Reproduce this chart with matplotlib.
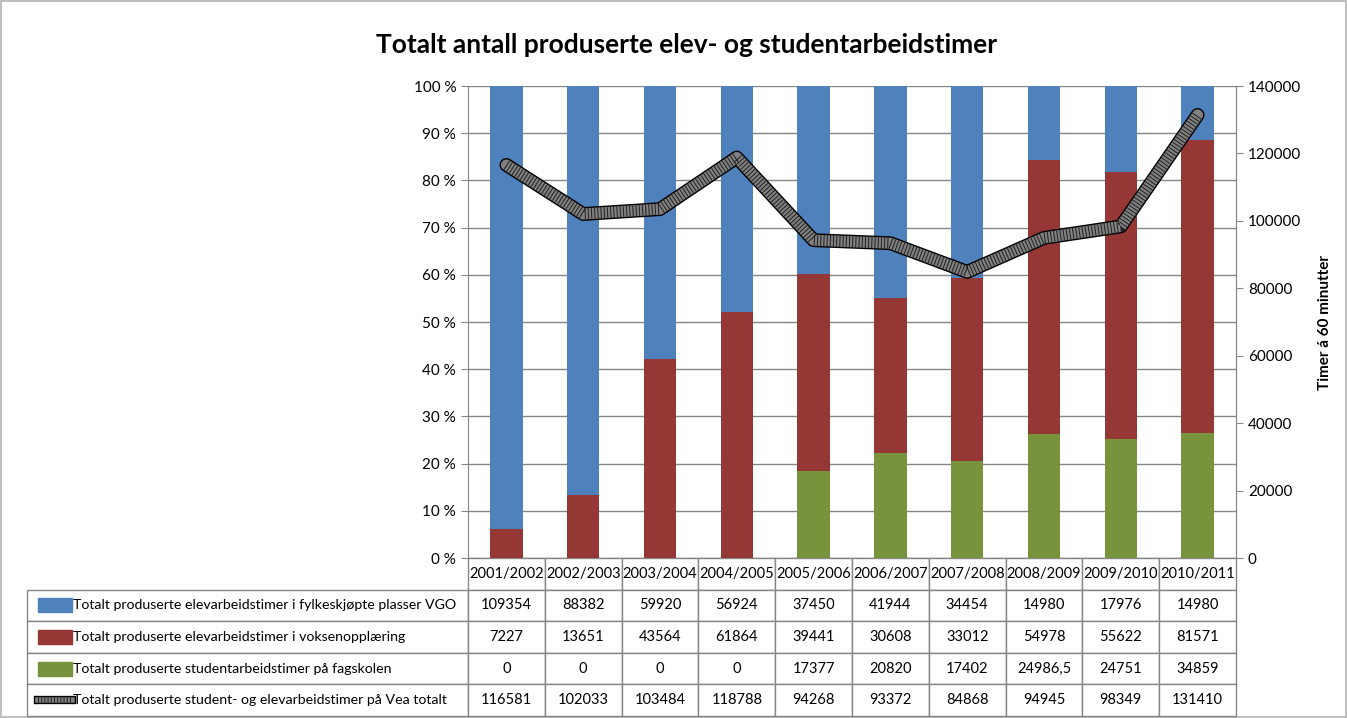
import numpy as np
import matplotlib.pyplot as plt
from matplotlib.patches import Rectangle
from matplotlib.lines import Line2D
from matplotlib.ticker import FuncFormatter

plt.rcParams['font.family'] = ['Lato', 'DejaVu Sans']
plt.rcParams['lines.scale_dashes'] = False

years = ['2001/2002', '2002/2003', '2003/2004', '2004/2005', '2005/2006',
         '2006/2007', '2007/2008', '2008/2009', '2009/2010', '2010/2011']
vgo = [109354, 88382, 59920, 56924, 37450, 41944, 34454, 14980, 17976, 14980]
voksen = [7227, 13651, 43564, 61864, 39441, 30608, 33012, 54978, 55622, 81571]
fagskole = [0, 0, 0, 0, 17377, 20820, 17402, 24986.5, 24751, 34859]
totalt = [116581, 102033, 103484, 118788, 94268, 93372, 84868, 94945, 98349, 131410]

labels = ['Totalt produserte elevarbeidstimer i fylkeskjøpte plasser VGO',
          'Totalt produserte elevarbeidstimer i voksenopplæring',
          'Totalt produserte studentarbeidstimer på fagskolen',
          'Totalt produserte student- og elevarbeidstimer på Vea totalt']

c_blue = '#4f81bd'
c_red = '#953735'
c_green = '#77933c'
grid_c = '#868686'
fs = 10.5


def fmt(v):
    if float(v).is_integer():
        return str(int(v))
    return str(v).replace('.', ',')


sum3 = np.array(vgo) + np.array(voksen) + np.array(fagskole)
p_green = np.array(fagskole) / sum3
p_red = np.array(voksen) / sum3
p_blue = np.array(vgo) / sum3

x = np.arange(len(years))

fig = plt.figure(figsize=(13.47, 7.18), dpi=100)
fig.patch.set_edgecolor('#bfbfbf')
fig.patch.set_linewidth(1.5)
ax = fig.add_axes([468 / 1347, 1 - 558 / 718, 768 / 1347, 472 / 718])

w = 0.42
ax.bar(x, p_green, w, color=c_green, zorder=2)
ax.bar(x, p_red, w, bottom=p_green, color=c_red, zorder=2)
ax.bar(x, p_blue, w, bottom=p_green + p_red, color=c_blue, zorder=2)

ax.set_xlim(-0.5, len(years) - 0.5)
ax.set_ylim(0, 1)
ax.set_yticks(np.arange(0, 1.01, 0.1))
ax.yaxis.set_major_formatter(FuncFormatter(lambda v, p: f'{v * 100:.0f} %'))
ax.yaxis.grid(True, color=grid_c, linewidth=1)
ax.set_axisbelow(True)
ax.set_xticks([])
for s in ['top', 'bottom']:
    ax.spines[s].set_visible(False)
ax.spines['left'].set_color(grid_c)
ax.spines['right'].set_color(grid_c)
ax.tick_params(axis='y', direction='out', length=5, color=grid_c, labelsize=fs + 0.5)


def hatched_line(axis, xs, ys, lw, **kw):
    axis.plot(xs, ys, color='black', linewidth=lw + 2, solid_capstyle='round', zorder=3, **kw)
    axis.plot(xs, ys, color='#808080', linewidth=lw, solid_capstyle='round', zorder=4, **kw)
    axis.plot(xs, ys, color='black', linewidth=lw, dashes=(0.7, 1.6), alpha=0.75, zorder=5, **kw)


ax2 = ax.twinx()
hatched_line(ax2, x, totalt, 8)
ax2.set_ylim(0, 140000)
ax2.set_yticks(np.arange(0, 140001, 20000))
for s in ['top', 'bottom', 'left']:
    ax2.spines[s].set_visible(False)
ax2.spines['right'].set_color(grid_c)
ax2.tick_params(axis='y', direction='out', length=5, color=grid_c, labelsize=fs + 0.5)
ax2.set_ylabel('Timer á 60 minutter', fontsize=fs + 0.5, fontweight='bold')
ax2.yaxis.set_label_coords(1.107, 0.5)

# data table under the chart
header = [''] + years
rows = [[labels[0]] + [fmt(v) for v in vgo],
        [labels[1]] + [fmt(v) for v in voksen],
        [labels[2]] + [fmt(v) for v in fagskole],
        [labels[3]] + [fmt(v) for v in totalt]]
lab_w = 441 / 768
col_w = 0.1
tx0 = -lab_w
ty0 = -158 / 472
th = 158 / 472
tbl = ax.table(cellText=[header] + rows, cellLoc='center',
               colWidths=[lab_w] + [col_w] * len(years),
               bbox=[tx0, ty0, lab_w + 1.0, th])
tbl.auto_set_font_size(False)
tbl.set_fontsize(fs)
for (r, c), cell in tbl.get_celld().items():
    cell.set_edgecolor(grid_c)
    cell.set_linewidth(1)
    if c == 0:
        cell._loc = 'left'
        cell.get_text().set_horizontalalignment('left')
        cell.get_text().set_fontsize(fs - 0.3)
        cell.PAD = 0.104
tbl[0, 0].visible_edges = ''

# legend keys inside the label cells
rh = th / 5
kx0 = (38 - 468) / 768
kx1 = (72 - 468) / 768
kh = 14 / 472
key_colors = [c_blue, c_red, c_green]
for i in range(4):
    yc = ty0 + th - (i + 1.5) * rh
    if i < 3:
        ax.add_patch(Rectangle((kx0, yc - kh / 2), kx1 - kx0, kh, transform=ax.transAxes,
                               color=key_colors[i], clip_on=False, zorder=5))
    else:
        ax.add_line(Line2D([kx0, kx1], [yc, yc], transform=ax.transAxes, color='black',
                           linewidth=6, clip_on=False, zorder=5))
        ax.add_line(Line2D([kx0, kx1], [yc, yc], transform=ax.transAxes, color='#808080',
                           linewidth=4, clip_on=False, zorder=6))
        ax.add_line(Line2D([kx0, kx1], [yc, yc], transform=ax.transAxes, color='black',
                           linewidth=4, dashes=(0.7, 1.6), alpha=0.75, clip_on=False, zorder=7))

fig.text(687 / 1347, 1 - 45 / 718, 'Totalt antall produserte elev- og studentarbeidstimer',
         ha='center', va='center', fontsize=19, fontweight='bold')

fig.savefig('out.png', dpi=100)
